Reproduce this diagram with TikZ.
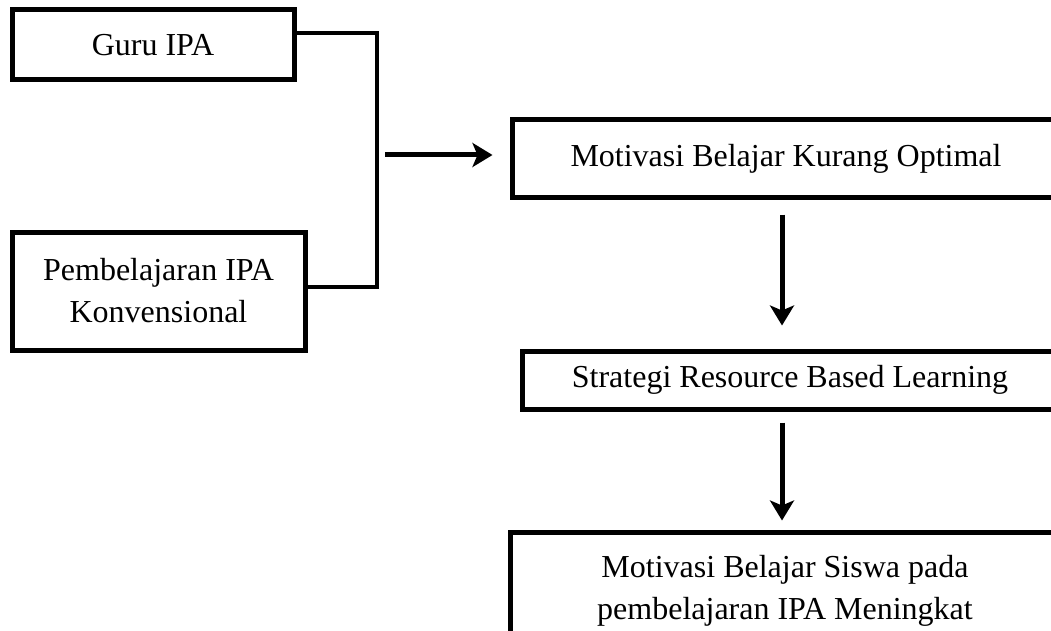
\documentclass[tikz,border=0pt]{standalone}
\usepackage{fontspec}
\setmainfont{Liberation Serif}
\usetikzlibrary{positioning,arrows.meta}

\begin{document}
\begin{tikzpicture}[x=1pt, y=-1pt,
    every node/.style={font=\fontsize{32}{42}\selectfont},
    box/.style={draw, line width=5pt, inner sep=0pt, align=center},
    link/.style={line width=4.5pt},
    arr/.style={line width=5pt, -{Stealth[length=20pt,width=24pt,inset=5pt]}}
]
\useasboundingbox (0,0) rectangle (1051,631);
\clip (0,0) rectangle (1051,631);

% causes on the left
\node[box, minimum width=282pt, minimum height=70pt] (guru) at (153,45) {Guru IPA};
\node[box, minimum width=293pt, minimum height=118pt] (konv) at (158.5,291) {Pembelajaran IPA\\Konvensional};

% chain on the right (runs past the page edge)
\node[box, minimum width=548pt, minimum height=77pt] (kurang) at (786,158.5) {Motivasi Belajar Kurang Optimal};
\node[box, minimum width=536pt, minimum height=58pt] (rbl) at (790,380) {Strategi Resource Based Learning};
\node[box, minimum width=550pt, minimum height=118pt] (naik) at (785,591) {Motivasi Belajar Siswa pada\\pembelajaran IPA Meningkat};

% bracket joining both causes
\coordinate (jtop) at (377,33);
\coordinate (jbot) at (377,287);
\coordinate (src) at (385,155);
\draw[link] (guru.east |- jtop) -- (jtop) -- (jbot) -- (konv.east |- jbot);

% arrows
\draw[arr] (src) -- ([xshift=-17pt]kurang.west |- src);
\draw[arr] ([xshift=-4pt,yshift=-15pt]kurang.south) -- ([xshift=-8pt,yshift=23pt]rbl.north);
\draw[arr] ([xshift=-8pt,yshift=-11pt]rbl.south) -- ([xshift=-3pt,yshift=9pt]naik.north);
\end{tikzpicture}
\end{document}
